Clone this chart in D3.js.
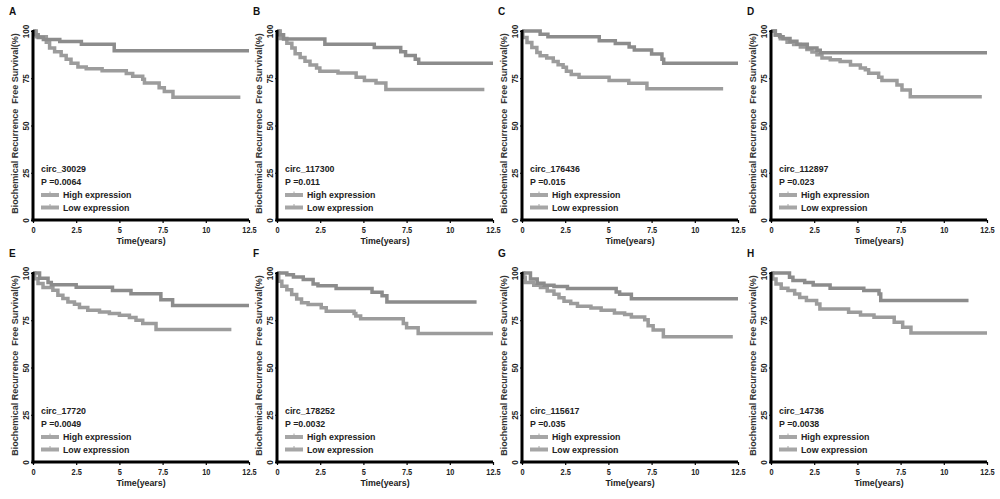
<!DOCTYPE html>
<html>
<head>
<meta charset="utf-8">
<script src="https://cdn.jsdelivr.net/npm/d3@7"></script>
<style>
  html, body { margin: 0; padding: 0; background: #fff; }
  svg { display: block; font-family: "Liberation Sans", Arial, sans-serif; }
  text { white-space: pre; }
</style>
</head>
<body>
<script>
// ---------- data ----------
const panelLetters = ["A", "B", "C", "D", "E", "F", "G", "H"];
const geneNames = ["circ_30029", "circ_117300", "circ_176436", "circ_112897",
                   "circ_17720", "circ_178252", "circ_115617", "circ_14736"];
const pValues = ["0.0064", "0.011", "0.015", "0.023", "0.0049", "0.0032", "0.035", "0.0038"];
const seriesNames = ["High expression", "Low expression"];
const xTicks = [0, 2.5, 5, 7.5, 10, 12.5];
const yTicks = [0, 25, 50, 75, 100];
const xTitle = "Time(years)";
const yTitle = "Biochemical Recurrence  Free Survival(%)";

// step curves: [time (years), survival (%)]
const highA = [[0,100],[0.1,98],[0.3,96.5],[0.6,95.5],[1.55,94.4],[2.8,93],[4.7,89.6],[12.5,89.6]];
const lowA  = [[0,100],[0.19,97],[0.77,94],[0.96,91],[1.25,89],[1.63,87],[1.92,85],[2.2,83],[2.6,81],[3.08,80],[4.0,79],[5.4,77.5],[5.77,76],[6.35,74.5],[6.45,72.5],[7.3,70],[7.6,68],[8.1,65],[12.0,65]];
const highB = [[0,100],[0.1,98],[0.38,95.8],[2.77,93],[5.63,91.3],[7.16,89],[7.44,87],[8.0,85],[8.2,83],[12.5,83]];
const lowB  = [[0,100],[0.19,96],[0.57,93.5],[0.86,91],[1.05,88],[1.34,86],[1.62,84],[1.91,82],[2.29,80.4],[2.48,78.7],[3.53,77.8],[4.58,75.5],[5.06,73.8],[5.73,72.5],[6.3,69],[12.0,69]];
const highC = [[0,100],[1.05,98.3],[1.5,96.9],[4.47,94.8],[5.4,93.4],[6.2,91.6],[6.5,89.9],[7.5,87.8],[8.1,85],[8.2,82.9],[12.5,82.9]];
const lowC  = [[0,100],[0.05,96.5],[0.29,93.9],[0.57,91.3],[0.86,88.6],[1.05,86.9],[1.43,85.7],[1.81,83.9],[2.09,82.2],[2.38,80.8],[2.57,78.7],[2.85,77],[3.3,75.5],[5.04,73.8],[6.18,72.4],[7.23,69.5],[11.64,69.5]];
const highD = [[0,100],[0.25,98],[0.5,97],[0.7,96],[1.1,94.6],[1.5,93],[2.1,91],[2.66,89.8],[2.85,88.5],[12.5,88.5]];
const lowD  = [[0,100],[0.25,97.7],[0.54,95.9],[0.93,94.1],[1.31,92.9],[1.7,91.6],[2.08,90.2],[2.37,88.9],[2.66,87.5],[2.95,85.7],[3.43,84.8],[4.0,83.9],[4.6,82],[5.17,80.4],[5.46,79.5],[5.65,77.7],[6.23,75.5],[6.42,73.8],[7.29,71.4],[7.58,68.75],[8.06,65.2],[12.2,65.2]];
const highE = [[0,100],[0.38,97.2],[0.87,95],[1.06,93.8],[2.5,92.4],[4.6,90.7],[5.67,89],[7.4,85.8],[8.08,82.8],[12.5,82.8]];
const lowE  = [[0,100],[0.1,97],[0.29,94.4],[0.58,92.3],[1.15,90.9],[1.44,88.2],[1.73,86.5],[2.02,84.7],[2.4,83.5],[2.69,81.7],[3.17,80.3],[3.85,79.4],[4.42,78.6],[5.0,77.7],[5.58,76.4],[5.96,75],[6.35,73.3],[7.12,70.1],[11.48,70.1]];
const highF = [[0,100],[0.57,99.1],[0.95,97.9],[1.52,96.5],[2.09,94.2],[2.37,93.3],[3.42,91.8],[5.5,89.8],[6.08,88],[6.36,84.6],[11.55,84.6]];
const lowF  = [[0,100],[0.1,95.6],[0.28,93],[0.57,91.2],[0.85,88.6],[1.14,86.3],[1.42,84.2],[1.8,83.3],[2.56,81.6],[2.85,79.8],[4.46,78.6],[4.56,77.2],[4.84,75.8],[7.31,73.3],[7.5,71],[8.17,68],[12.5,68]];
const highG = [[0,100],[0.49,96.8],[0.88,94.6],[1.27,93.5],[1.85,92.8],[2.63,91.8],[5.45,90],[5.65,88.7],[6.33,86.4],[12.5,86.4]];
const lowG  = [[0,100],[0.1,97.7],[0.19,95],[0.68,93.5],[1.07,92.3],[1.46,90.5],[1.85,88.7],[2.14,86.9],[2.43,85.1],[2.82,83.9],[3.21,82.4],[3.99,81.5],[4.58,80.3],[5.35,78.9],[5.94,78],[6.33,76.7],[7.1,75.3],[7.3,72.1],[7.59,69.9],[8.18,66.3],[12.2,66.3]];
const highH = [[0,100],[1.07,97.7],[1.27,96],[1.95,95],[2.44,93.7],[3.42,91.9],[5.37,90.7],[6.25,88.9],[6.35,85.4],[11.43,85.4]];
const lowH  = [[0,100],[0.1,96.8],[0.29,94.2],[0.59,91.9],[0.98,90.7],[1.37,88.9],[1.66,87.1],[2.05,85.4],[2.64,83.6],[2.83,81],[4.49,79.2],[5.18,77.8],[5.96,76.6],[7.13,73.9],[7.62,71.3],[8.1,68.3],[12.5,68.3]];

const highCurves = [highA, highB, highC, highD, highE, highF, highG, highH];
const lowCurves  = [lowA, lowB, lowC, lowD, lowE, lowF, lowG, lowH];

// ---------- layout ----------
const W = 1000, H = 499;
const colX = [33, 277, 522, 771];
const rowTop = [31, 273];
const rowBottom = [220, 462];
const plotW = 216;
const highColor = "#8c8c8c", lowColor = "#9c9c9c", swatchColor = "#a6a6a6";
const textColor = "#222";

const svg = d3.select("body").append("svg").attr("width", W).attr("height", H);
svg.append("rect").attr("width", W).attr("height", H).attr("fill", "#fff");

panelLetters.forEach((letter, i) => {
  const col = i % 4, row = Math.floor(i / 4);
  const x = d3.scaleLinear().domain([0, 12.5]).range([colX[col], colX[col] + plotW]);
  const y = d3.scaleLinear().domain([0, 100]).range([rowBottom[row], rowTop[row]]);
  const g = svg.append("g");

  // curves
  const line = d3.line().x(d => x(d[0])).y(d => y(d[1])).curve(d3.curveStepAfter);
  [[lowCurves[i], lowColor], [highCurves[i], highColor]].forEach(([data, color]) => {
    g.append("path").datum(data).attr("d", line)
      .attr("fill", "none").attr("stroke", color).attr("stroke-width", 3.5)
      .attr("stroke-linejoin", "miter").attr("stroke-linecap", "butt");
  });

  // x axis
  const xa = g.append("g").attr("transform", `translate(0,${y(0)})`)
    .call(d3.axisBottom(x).tickValues(xTicks).tickSize(3).tickSizeOuter(0).tickFormat(d => String(d)));
  xa.select(".domain").remove();
  xa.selectAll(".tick line").attr("stroke", "#000").attr("stroke-width", 1.2);
  xa.selectAll(".tick text").attr("y", 7).attr("dy", "0.71em")
    .attr("font-size", 8.2).attr("font-weight", "bold").attr("fill", textColor)
    .attr("font-family", "Liberation Sans, Arial, sans-serif")
    .attr("transform", "scale(0.9,1)");

  // y axis
  const ya = g.append("g").attr("transform", `translate(${x(0)},0)`)
    .call(d3.axisLeft(y).tickValues(yTicks).tickSize(2).tickSizeOuter(0).tickFormat(d => String(d)));
  ya.select(".domain").remove();
  ya.selectAll(".tick line").attr("stroke", "#000").attr("stroke-width", 1.2);
  ya.selectAll(".tick text")
    .attr("x", null).attr("dy", null)
    .attr("transform", "translate(-4,0) rotate(-90)")
    .attr("text-anchor", "middle")
    .attr("font-size", 8.2).attr("font-weight", "bold").attr("fill", textColor)
    .attr("font-family", "Liberation Sans, Arial, sans-serif");

  // thick axis lines
  g.append("line").attr("x1", x(0)).attr("x2", x(0)).attr("y1", y(100) - 1).attr("y2", y(0) + 1.5)
    .attr("stroke", "#000").attr("stroke-width", 3);
  g.append("line").attr("x1", x(0) - 1.5).attr("x2", x(12.5)).attr("y1", y(0)).attr("y2", y(0))
    .attr("stroke", "#000").attr("stroke-width", 3);

  // titles
  g.append("text").attr("x", (x(0) + x(12.5)) / 2).attr("y", y(0) + 24)
    .attr("text-anchor", "middle").attr("font-size", 8.8).attr("font-weight", "bold")
    .attr("fill", textColor).text(xTitle);
  g.append("text")
    .attr("transform", `translate(${x(0) - 15},${(y(0) + y(100)) / 2 - 2}) rotate(-90)`)
    .attr("text-anchor", "middle").attr("font-size", 9).attr("font-weight", "bold")
    .attr("fill", "#333").text(yTitle);

  // panel letter
  g.append("text").attr("x", x(0) - 24).attr("y", y(100) - 16)
    .attr("font-size", 10).attr("font-weight", "bold").attr("fill", "#111").text(letter);

  // legend
  const lx = x(0) + 8, by = y(0);
  const lg = g.append("g").attr("font-size", 8.8).attr("font-weight", "bold").attr("fill", textColor);
  lg.append("text").attr("x", lx).attr("y", by - 51).attr("dy", "0.35em").text(geneNames[i]);
  lg.append("text").attr("x", lx).attr("y", by - 38).attr("dy", "0.35em").text("P =" + pValues[i]);
  seriesNames.forEach((name, k) => {
    const cy = by - 25 + k * 12.5;
    lg.append("line").attr("x1", lx).attr("x2", lx + 18).attr("y1", cy).attr("y2", cy)
      .attr("stroke", swatchColor).attr("stroke-width", 4);
    lg.append("line").attr("x1", lx + 9).attr("x2", lx + 9).attr("y1", cy - 3.5).attr("y2", cy)
      .attr("stroke", swatchColor).attr("stroke-width", 1);
    lg.append("text").attr("x", lx + 22).attr("y", cy).attr("dy", "0.35em").text(name);
  });
});
</script>
</body>
</html>
